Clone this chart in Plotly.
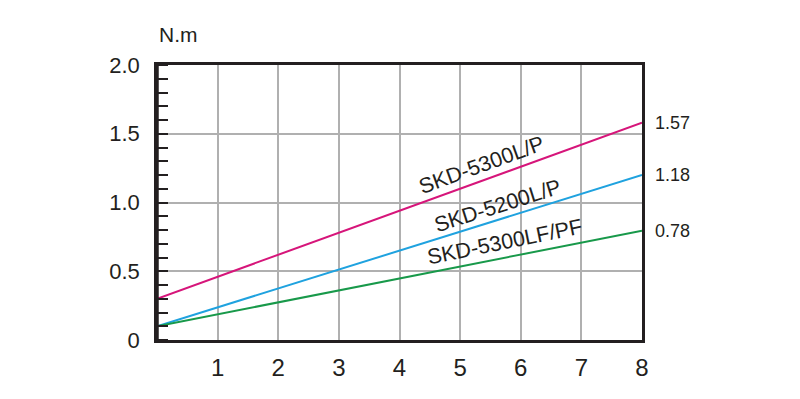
import plotly.graph_objects as go

speed = [0, 8]
series_names = ["SKD-5300L/P", "SKD-5200L/P", "SKD-5300LF/PF"]
torque_5300lp = [0.30, 1.58]
torque_5200lp = [0.10, 1.20]
torque_5300lfpf = [0.10, 0.795]
end_labels = ["1.57", "1.18", "0.78"]
colors = ["#D6157A", "#1FA2DF", "#18994A"]
x_ticks = [1, 2, 3, 4, 5, 6, 7, 8]
y_ticks = [0, 0.5, 1.0, 1.5, 2.0]
y_tick_text = ["0", "0.5", "1.0", "1.5", "2.0"]

FONT = "Liberation Sans, Arial, sans-serif"

fig = go.Figure()
all_series = [torque_5300lp, torque_5200lp, torque_5300lfpf]
for name, ys, c in zip(series_names, all_series, colors):
    fig.add_trace(go.Scatter(x=speed, y=ys, mode="lines", name=name,
                             line=dict(color=c, width=2), showlegend=False,
                             hoverinfo="skip"))

# series labels along lines
label_pos = [(5.36, 1.27, -20), (5.62, 0.975, -17.5), (5.74, 0.71, -11.5)]
for name, (lx, ly, ang) in zip(series_names, label_pos):
    fig.add_annotation(x=lx, y=ly, text=name, showarrow=False, textangle=ang,
                       font=dict(family=FONT, size=21.5, color="#231F20"),
                       xanchor="center", yanchor="middle")

# end values on right
for ys, lab in zip(all_series, end_labels):
    fig.add_annotation(x=8, y=ys[-1], text=lab, showarrow=False,
                       xanchor="left", yanchor="middle", xshift=11,
                       font=dict(family=FONT, size=18, color="#231F20"))

# unit label
fig.add_annotation(xref="paper", yref="paper", x=0, y=1, text="N.m",
                   showarrow=False, xanchor="left", yanchor="bottom",
                   yshift=17, font=dict(family=FONT, size=21, color="#231F20"))

fig.update_layout(
    width=800, height=399,
    margin=dict(l=157, r=158, t=65, b=59),
    paper_bgcolor="white", plot_bgcolor="white",
    font=dict(family=FONT, color="#231F20"),
    xaxis=dict(range=[0, 8], tickvals=x_ticks, ticktext=[str(v) for v in x_ticks],
               showgrid=True, gridcolor="#B0B0B0", gridwidth=1.5,
               showline=True, linecolor="#231F20", linewidth=2.5, mirror=True,
               ticks="", tickfont=dict(size=24), zeroline=False, ticklabelstandoff=4),
    yaxis=dict(range=[0, 2], tickvals=y_ticks, ticktext=y_tick_text,
               showgrid=True, gridcolor="#B0B0B0", gridwidth=1.5,
               showline=True, linecolor="#231F20", linewidth=2.5, mirror=True,
               ticks="", tickfont=dict(size=22), zeroline=False, ticklabelstandoff=10,
               minor=dict(dtick=0.1, tick0=0, ticks="inside", ticklen=11,
                          tickwidth=2, tickcolor="#231F20", showgrid=False)),
)
fig.add_shape(type="line", xref="x", yref="y", x0=0, x1=0, y0=0, y1=2,
              line=dict(color="#231F20", width=3.5))

fig.write_html("out.html")
